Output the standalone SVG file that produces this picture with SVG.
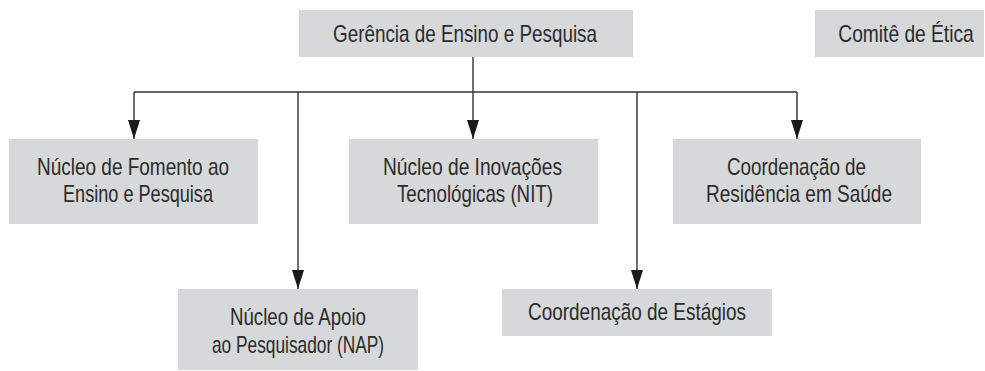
<svg xmlns="http://www.w3.org/2000/svg" width="985" height="371" viewBox="0 0 985 371">
<style>
.box{fill:#d7d8da;}
.t{font-family:"Liberation Sans",Arial,sans-serif;font-size:24px;fill:#2b2b2b;text-anchor:middle;}
.ln{stroke:#333;stroke-width:1.4;fill:none;}
</style>
<defs>
<marker id="ah" viewBox="0 0 19 12" refX="19" refY="6" markerWidth="19" markerHeight="12" markerUnits="userSpaceOnUse" orient="auto">
<path d="M0,0 L19,6 L0,12 Z" fill="#1a1a1a"/>
</marker>
</defs>
<rect width="985" height="371" fill="#fff"/>
<g id="connectors">
<path class="ln" d="M473,57 V92"/>
<path class="ln" d="M134,92 H797"/>
<path class="ln" d="M134,92 V139" marker-end="url(#ah)"/>
<path class="ln" d="M298,92 V289" marker-end="url(#ah)"/>
<path class="ln" d="M473,92 V139" marker-end="url(#ah)"/>
<path class="ln" d="M637,92 V289" marker-end="url(#ah)"/>
<path class="ln" d="M797,92 V139" marker-end="url(#ah)"/>
</g>
<g id="gerencia">
<rect class="box" x="299" y="10" width="334" height="47"/>
<text class="t" x="465" y="42" textLength="264" lengthAdjust="spacingAndGlyphs">Gerência de Ensino e Pesquisa</text>
</g>
<g id="comite">
<rect class="box" x="815" y="10" width="169" height="47"/>
<text class="t" transform="translate(906,42) scale(0.8,1)" x="0" y="0">Comitê de Ética</text>
</g>
<g id="fomento">
<rect class="box" x="9" y="139" width="249" height="85"/>
<text class="t" x="133" y="175" textLength="192" lengthAdjust="spacingAndGlyphs">Núcleo de Fomento ao</text>
<text class="t" x="138" y="202" textLength="150" lengthAdjust="spacingAndGlyphs">Ensino e Pesquisa</text>
</g>
<g id="nit">
<rect class="box" x="349" y="139" width="249" height="85"/>
<text class="t" x="472.5" y="175" textLength="179" lengthAdjust="spacingAndGlyphs">Núcleo de Inovações</text>
<text class="t" x="475" y="202" textLength="156" lengthAdjust="spacingAndGlyphs">Tecnológicas (NIT)</text>
</g>
<g id="residencia">
<rect class="box" x="673" y="139" width="248" height="85"/>
<text class="t" x="796.5" y="175" textLength="139" lengthAdjust="spacingAndGlyphs">Coordenação de</text>
<text class="t" x="799" y="202" textLength="186" lengthAdjust="spacingAndGlyphs">Residência em Saúde</text>
</g>
<g id="nap">
<rect class="box" x="178" y="289" width="240" height="81"/>
<text class="t" x="298" y="325" textLength="136" lengthAdjust="spacingAndGlyphs">Núcleo de Apoio</text>
<text class="t" x="298" y="353" textLength="172" lengthAdjust="spacingAndGlyphs">ao Pesquisador (NAP)</text>
</g>
<g id="estagios">
<rect class="box" x="502" y="289" width="270" height="47"/>
<text class="t" x="637" y="320" textLength="218" lengthAdjust="spacingAndGlyphs">Coordenação de Estágios</text>
</g>
</svg>
